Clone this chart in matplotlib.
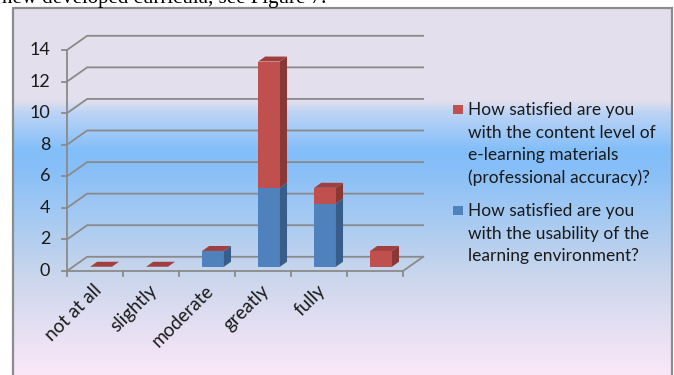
import numpy as np
import matplotlib.pyplot as plt
from matplotlib.patches import Polygon, Rectangle

categories = ["not at all", "slightly", "moderate", "greatly", "fully", ""]
usability = [0, 0, 1, 5, 4, 0]
content = [0, 0, 0, 8, 1, 1]
y_ticks = [0, 2, 4, 6, 8, 10, 12, 14]
content_label = ("How satisfied are you\nwith the content level of\n"
                 "e-learning materials\n(professional accuracy)?")
usability_label = ("How satisfied are you\nwith the usability of the\n"
                   "learning environment?")
caption = "new developed curricula, see Figure 7."

W, H = 674, 375
DX, DY = 0.36, 0.9        # back wall offset (fake 3d), data units
BAR_W = 0.39
F0, F1 = 0.30, 0.65       # bar front / back depth as fraction of floor depth

RED, RED_SIDE, RED_TOP = "#C0504D", "#8A3836", "#A03F3D"
BLUE, BLUE_SIDE = "#4F81BD", "#385D8A"
GRID = "#8A8A8A"
FONT = "Lato"
TXT = "#1a1a1a"


def px_box(x0, y0, x1, y1):
    return [x0 / W, 1 - y1 / H, (x1 - x0) / W, (y1 - y0) / H]


fig = plt.figure(figsize=(W / 100, H / 100), dpi=100)

# gradient background of the chart area
bg = fig.add_axes(px_box(13, 8, 672, 375))
ys = np.arange(8, 376)
stop_y = [8, 100, 112, 150, 170, 270, 320, 375]
stop_c = np.array([(228, 224, 237), (227, 223, 237), (190, 212, 245),
                   (130, 190, 250), (136, 191, 248), (198, 213, 236),
                   (225, 222, 241), (250, 232, 249)]) / 255
grad = np.stack([np.interp(ys, stop_y, stop_c[:, k]) for k in range(3)], axis=1)
bg.imshow(grad[:, None, :], aspect="auto", extent=(0, 1, 0, 1))
bg.axis("off")
fig.add_artist(Rectangle((13 / W, -0.1), (672 - 13) / W, 1.1 - 8 / H,
                         transform=fig.transFigure, fill=False,
                         ec="#8C8C8C", lw=1.6))

# main axes: x 0..6 -> px 67..403, y 0..14 -> px 271..50
x0px, ux = 67, 56
y0px, uy = 271, (271 - 50) / 14
xl, yl = (-0.4, 6.6), (-0.8, 15.3)
ax = fig.add_axes(px_box(x0px + xl[0] * ux, y0px - yl[1] * uy,
                         x0px + xl[1] * ux, y0px - yl[0] * uy))
ax.set_xlim(*xl)
ax.set_ylim(*yl)
ax.axis("off")

n = len(categories)
for v in y_ticks:
    ax.plot([0, DX, n + DX], [v, v + DY, v + DY], color=GRID, lw=1.3, zorder=1)
    ax.plot([-0.09, 0], [v, v], color=GRID, lw=1.3, zorder=1)
    ax.text(-0.30, v, str(v), ha="right", va="center", fontsize=13,
            family=FONT, color=TXT)
ax.plot([0, 0], [0, y_ticks[-1]], color=GRID, lw=1.3, zorder=1)
ax.plot([0, n, n + DX], [0, 0, DY], color=GRID, lw=1.3, zorder=1)
for i in range(n + 1):
    ax.plot([i, i], [0, -0.32], color=GRID, lw=1.3, zorder=1)

# bars
x = np.arange(n)
xc = x + 0.5 + F0 * DX
base = F0 * DY
usab = np.array(usability, dtype=float)
cont = np.array(content, dtype=float)
ax.bar(xc, usab, BAR_W, bottom=base, color=BLUE, zorder=3)
ax.bar(xc, cont, BAR_W, bottom=base + usab, color=RED, zorder=3)
ddx, ddy = (F1 - F0) * DX, (F1 - F0) * DY
for i in range(n):
    xr = xc[i] + BAR_W / 2
    xlft = xc[i] - BAR_W / 2
    segs = [(0, usab[i], BLUE_SIDE), (usab[i], usab[i] + cont[i], RED_SIDE)]
    for lo, hi, c in segs:
        if hi > lo:
            ax.add_patch(Polygon([(xr, base + lo), (xr + ddx, base + lo + ddy),
                                  (xr + ddx, base + hi + ddy), (xr, base + hi)],
                                 closed=True, fc=c, ec="none", zorder=3))
    top = base + usab[i] + cont[i]
    ax.add_patch(Polygon([(xlft, top), (xr, top), (xr + ddx, top + ddy),
                          (xlft + ddx, top + ddy)],
                         closed=True, fc=RED_TOP, ec="none", zorder=3))
    if categories[i]:
        ax.text(i + 0.56, -1.05, categories[i], rotation=45, ha="right",
                va="center", rotation_mode="anchor", fontsize=13.5,
                family=FONT, color=TXT)

# legend
for label, c, ytop in [(content_label, RED, 102), (usability_label, BLUE, 203)]:
    fig.add_artist(Rectangle((453 / W, 1 - (ytop + 12) / H), 10 / W, 9 / H,
                             transform=fig.transFigure, fc=c, ec="none"))
    fig.text(468 / W, 1 - ytop / H, label, ha="left", va="top", fontsize=12.5,
             family=FONT, color=TXT, linespacing=1.5)

fig.text(2 / W, 1 - 3 / H, caption, ha="left", va="baseline",
         family="Liberation Serif", fontsize=15, color="black")

fig.savefig("out.png", dpi=100)
